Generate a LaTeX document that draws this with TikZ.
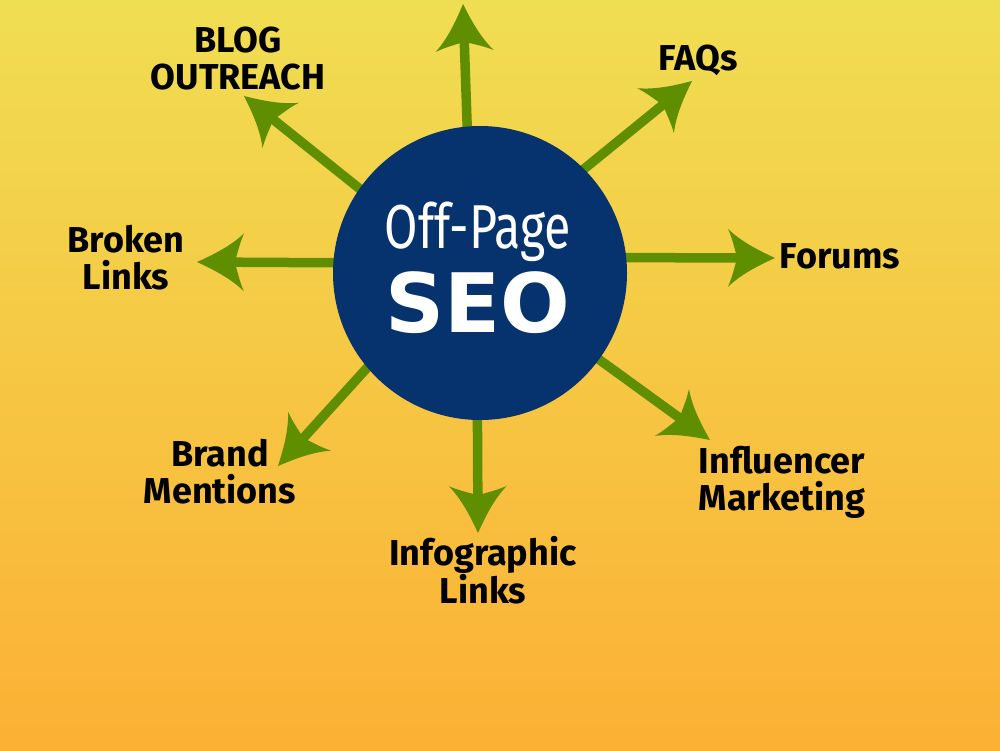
\documentclass[tikz,border=0pt]{standalone}
\usepackage{fontspec}
\usepackage{graphicx}
\setmainfont{Fira Sans}
\newfontfamily\seofont{DejaVu Sans}
\usetikzlibrary{arrows.meta}
\pgfdeclarelayer{back}
\pgfdeclarelayer{mid}
\pgfsetlayers{back,mid,main}
\definecolor{bgtop}{HTML}{F0DE52}
\definecolor{bgmid}{HTML}{F6C947}
\definecolor{bgbot}{HTML}{FCB034}
\definecolor{arrgreen}{HTML}{5F8F00}
\definecolor{navy}{HTML}{06336E}
\pgfdeclarearrow{
  name = Curvy,
  parameters = {\the\pgfarrowlength,\the\pgfarrowwidth},
  setup code = {
    \pgfarrowssettipend{0pt}
    \pgfarrowssetbackend{-\pgfarrowlength}
    \pgfarrowssetlineend{-0.72\pgfarrowlength}
    \pgfarrowsupperhullpoint{0pt}{0pt}
    \pgfarrowsupperhullpoint{-\pgfarrowlength}{0.5\pgfarrowwidth}
    \pgfarrowssavethe\pgfarrowlength
    \pgfarrowssavethe\pgfarrowwidth
  },
  drawing code = {
    \pgfpathmoveto{\pgfqpoint{0pt}{0pt}}
    \pgfpathcurveto{\pgfqpoint{-0.35\pgfarrowlength}{0.13\pgfarrowwidth}}{\pgfqpoint{-0.72\pgfarrowlength}{0.28\pgfarrowwidth}}{\pgfqpoint{-\pgfarrowlength}{0.5\pgfarrowwidth}}
    \pgfpathcurveto{\pgfqpoint{-0.9\pgfarrowlength}{0.32\pgfarrowwidth}}{\pgfqpoint{-0.86\pgfarrowlength}{0.14\pgfarrowwidth}}{\pgfqpoint{-0.8\pgfarrowlength}{0pt}}
    \pgfpathcurveto{\pgfqpoint{-0.86\pgfarrowlength}{-0.14\pgfarrowwidth}}{\pgfqpoint{-0.9\pgfarrowlength}{-0.32\pgfarrowwidth}}{\pgfqpoint{-\pgfarrowlength}{-0.5\pgfarrowwidth}}
    \pgfpathcurveto{\pgfqpoint{-0.72\pgfarrowlength}{-0.28\pgfarrowwidth}}{\pgfqpoint{-0.35\pgfarrowlength}{-0.13\pgfarrowwidth}}{\pgfqpoint{0pt}{0pt}}
    \pgfpathclose
    \pgfusepathqfill
  },
  defaults = {length=47pt, width=58pt}
}
\begin{document}
\begin{tikzpicture}[x=1pt,y=-1pt,
  lbl/.style={font=\bfseries\fontsize{36}{37}\selectfont, align=center, inner sep=0pt, anchor=north, text=black},
  arr/.style={draw=arrgreen, line width=9.5pt, -{Curvy}, shorten <=-8pt},
]
\useasboundingbox (0,0) rectangle (1000,750);
\begin{pgfonlayer}{back}
\shade[top color=bgtop, middle color=bgmid, bottom color=bgbot] (0,0) rectangle (1000,750);
\end{pgfonlayer}

\node[circle, fill=navy, minimum size=294pt, inner sep=0pt] (c) at (480,273) {};
\node[anchor=base, inner sep=0pt, text=white] (off) at (478,248)
  {\scalebox{0.78}[1]{\fontsize{62}{62}\selectfont Off-Page}};
\node[anchor=base, inner sep=0pt, text=white] (seo) at (478,332)
  {\seofont\bfseries\fontsize{82}{82}\selectfont SEO};

\coordinate (t1) at (463,4);
\coordinate (t2) at (692,81);
\coordinate (t3) at (775,258);
\coordinate (t4) at (710,440);
\coordinate (t5) at (478,533);
\coordinate (t6) at (278,466);
\coordinate (t7) at (197,262);
\coordinate (t8) at (244,96);

\begin{pgfonlayer}{mid}
\draw[arr] (c.95) -- (t1);
\draw[arr] (c.45) -- (t2);
\draw[arr] (c.6) -- (t3);
\draw[arr] (c.-36) -- (t4);
\draw[arr] (c.-91) -- (t5);
\draw[arr] (c.220) -- (t6);
\draw[arr] (c.176) -- (t7);
\draw[arr] (c.145) -- (t8);
\end{pgfonlayer}

\node[lbl] (blog) at (238,27) {BLOG\\OUTREACH};
\node[lbl] (faq) at (698,45) {FAQs};
\node[lbl] (forums) at (840,243) {Forums};
\node[lbl] (infl) at (782,446) {Influencer\\Marketing};
\node[lbl] (info) at (483,536) {Infographic\\Links};
\node[lbl] (brand) at (220,439) {Brand\\Mentions};
\node[lbl] (broken) at (126,225) {Broken\\Links};
\end{tikzpicture}
\end{document}
